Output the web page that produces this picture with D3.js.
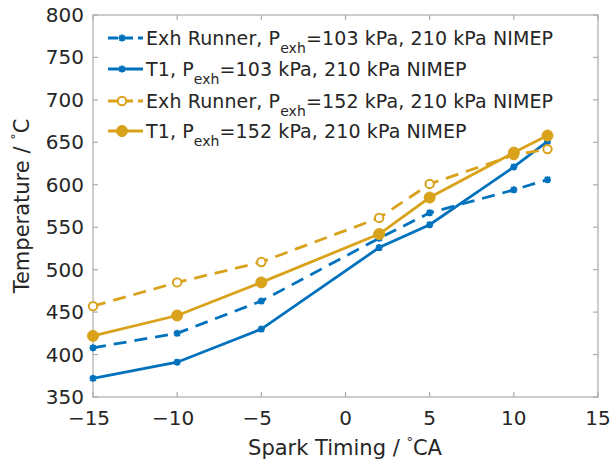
<!DOCTYPE html>
<html>
<head>
<meta charset="utf-8">
<script src="https://cdn.jsdelivr.net/npm/d3@7/dist/d3.min.js"></script>
<style>
  html, body { margin: 0; padding: 0; background: #fff; }
  svg { display: block; }
  text { font-family: "DejaVu Sans", sans-serif; fill: #262626; }
</style>
</head>
<body>
<svg id="chart" width="611" height="462"></svg>
<script>
// ---- data ----
const sparkTiming = [-15, -10, -5, 2, 5, 10, 12];
const exhRunner103 = [408, 425, 463, 537, 567, 594, 606];
const t1_103 = [372, 391, 430, 526, 553, 621, 651];
const exhRunner152 = [457, 485, 509, 561, 601, 635, 642];
const t1_152 = [422, 446, 485, 542, 585, 638, 658];
const xTicks = [-15, -10, -5, 0, 5, 10, 15];
const yTicks = [350, 400, 450, 500, 550, 600, 650, 700, 750, 800];
const seriesNames = [
  ["Exh Runner, P", "exh", "=103 kPa, 210 kPa NIMEP"],
  ["T1, P", "exh", "=103 kPa, 210 kPa NIMEP"],
  ["Exh Runner, P", "exh", "=152 kPa, 210 kPa NIMEP"],
  ["T1, P", "exh", "=152 kPa, 210 kPa NIMEP"]
];

const BLUE = "#0072BD", GOLD = "#D9A21B";
const series = [
  { values: exhRunner103, color: BLUE, dash: "13,8", marker: "star" },
  { values: t1_103, color: BLUE, dash: null, marker: "star" },
  { values: exhRunner152, color: GOLD, dash: "13,8", marker: "open" },
  { values: t1_152, color: GOLD, dash: null, marker: "filled" }
];

const svg = d3.select("#chart");
const L = 93, R = 598, T = 15, B = 397;
const x = d3.scaleLinear().domain([-15, 15]).range([L, R]);
const y = d3.scaleLinear().domain([350, 800]).range([B, T]);

// frame
const axisColor = "#acacac";
svg.append("rect").attr("x", L).attr("y", T).attr("width", R - L).attr("height", B - T)
  .attr("fill", "none").attr("stroke", axisColor).attr("stroke-width", 1.2);

// ticks (inward, all four sides)
const tickLen = 5;
xTicks.forEach(t => {
  svg.append("line").attr("x1", x(t)).attr("x2", x(t)).attr("y1", B).attr("y2", B - tickLen)
    .attr("stroke", axisColor).attr("stroke-width", 1.2);
  svg.append("line").attr("x1", x(t)).attr("x2", x(t)).attr("y1", T).attr("y2", T + tickLen)
    .attr("stroke", axisColor).attr("stroke-width", 1.2);
});
yTicks.forEach(t => {
  svg.append("line").attr("x1", L).attr("x2", L + tickLen).attr("y1", y(t)).attr("y2", y(t))
    .attr("stroke", axisColor).attr("stroke-width", 1.2);
  svg.append("line").attr("x1", R).attr("x2", R - tickLen).attr("y1", y(t)).attr("y2", y(t))
    .attr("stroke", axisColor).attr("stroke-width", 1.2);
});

// tick labels
const fmt = v => v < 0 ? "\u2212" + Math.abs(v) : String(v);
svg.append("g").selectAll("text").data(xTicks).join("text")
  .attr("x", d => x(d) - (d < 0 ? 4 : 0)).attr("y", 425)
  .attr("text-anchor", "middle").attr("font-size", 20).text(fmt);
svg.append("g").selectAll("text").data(yTicks).join("text")
  .attr("x", 84).attr("y", d => y(d) + 7)
  .attr("text-anchor", "end").attr("font-size", 20).text(d => d);

// axis titles
const xt = svg.append("text").attr("x", 345).attr("y", 455).attr("text-anchor", "middle").attr("font-size", 21);
xt.append("tspan").text("Spark Timing / ");
xt.append("tspan").attr("font-size", 13).attr("dy", -9).text("\u00B0");
xt.append("tspan").attr("dy", 9).text("CA");

const yt = svg.append("text").attr("transform", `translate(29,${(T + B) / 2}) rotate(-90)`)
  .attr("text-anchor", "middle").attr("font-size", 21);
yt.append("tspan").text("Temperature / ");
yt.append("tspan").attr("font-size", 13).attr("dy", -9).text("\u00B0");
yt.append("tspan").attr("dy", 9).text("C");

// markers
function drawMarker(g, mx, my, type, color) {
  if (type === "star") {
    const r = 3.5;
    g.append("path")
      .attr("d", `M${mx - r},${my}L${mx + r},${my}M${mx},${my - r}L${mx},${my + r}` +
        `M${mx - r * 0.75},${my - r * 0.75}L${mx + r * 0.75},${my + r * 0.75}` +
        `M${mx - r * 0.75},${my + r * 0.75}L${mx + r * 0.75},${my - r * 0.75}`)
      .attr("stroke", color).attr("stroke-width", 2).attr("fill", "none");
  } else if (type === "open") {
    g.append("circle").attr("cx", mx).attr("cy", my).attr("r", 4.2)
      .attr("fill", "#fff").attr("stroke", color).attr("stroke-width", 2);
  } else {
    g.append("circle").attr("cx", mx).attr("cy", my).attr("r", 5.5)
      .attr("fill", color).attr("stroke", color).attr("stroke-width", 1);
  }
}

// series
const line = d3.line().x(d => x(d[0])).y(d => y(d[1]));
series.forEach(s => {
  const pts = sparkTiming.map((t, i) => [t, s.values[i]]);
  const g = svg.append("g");
  g.append("path").attr("d", line(pts)).attr("fill", "none")
    .attr("stroke", s.color).attr("stroke-width", 2.8)
    .attr("stroke-dasharray", s.dash);
  pts.forEach(p => drawMarker(g, x(p[0]), y(p[1]), s.marker, s.color));
});

// legend
const legY = [38, 69, 101, 131];
series.forEach((s, i) => {
  const g = svg.append("g");
  const ly = legY[i];
  g.append("line").attr("x1", 108).attr("x2", 143).attr("y1", ly).attr("y2", ly)
    .attr("stroke", s.color).attr("stroke-width", 2.8).attr("stroke-dasharray", s.dash ? "10,5" : null);
  drawMarker(g, 122, ly, s.marker, s.color);
  const t = g.append("text").attr("x", 146).attr("y", ly + 7).attr("font-size", 19)
    .attr("letter-spacing", 0.1);
  t.append("tspan").text(seriesNames[i][0]);
  t.append("tspan").attr("font-size", 14).attr("dy", 8).text(seriesNames[i][1]);
  t.append("tspan").attr("dy", -8).text(seriesNames[i][2]);
});
</script>
</body>
</html>
